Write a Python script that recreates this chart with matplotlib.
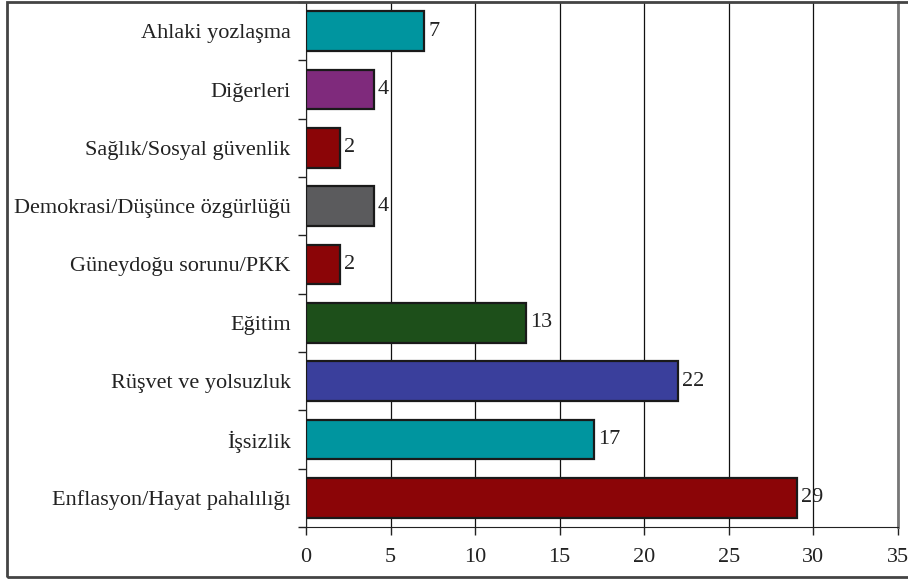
import matplotlib.pyplot as plt
import numpy as np
from matplotlib.patches import Rectangle

# bottom to top, as drawn
categories = ['Enflasyon/Hayat pahalılığı', 'İşsizlik', 'Rüşvet ve yolsuzluk', 'Eğitim',
              'Güneydoğu sorunu/PKK', 'Demokrasi/Düşünce özgürlüğü', 'Sağlık/Sosyal güvenlik',
              'Diğerleri', 'Ahlaki yozlaşma']
values = [29, 17, 22, 13, 2, 4, 2, 4, 7]
colors = ['#8B0507', '#00959F', '#3A3F9C', '#1D4F1A', '#8B0507', '#5B5B5D', '#8B0507',
          '#7F2A7C', '#00959F']
xticks = [0, 5, 10, 15, 20, 25, 30, 35]

plt.rcParams['font.family'] = ['Liberation Serif', 'DejaVu Serif']
FS = 16

fig = plt.figure(figsize=(9.08, 5.8), dpi=100)
ax = fig.add_axes([306 / 908, 53 / 580, 592 / 908, 525 / 580])

pos = np.arange(len(categories))
ax.barh(pos, values, height=0.68, color=colors, edgecolor='#1a1a1a', linewidth=1.6, zorder=3)
for p, v in zip(pos, values):
    ax.text(v + 0.25, p, str(v), va='center', ha='left', fontsize=FS, color='#222222', zorder=4)

ax.set_xlim(0, 35)
ax.set_ylim(-0.5, len(categories) - 0.5)
ax.set_xticks(xticks)
ax.set_xticklabels([str(t) for t in xticks], fontsize=FS, color='#222222')
ax.tick_params(axis='x', direction='out', length=6, width=1, pad=9, color='#222222')
ax.xaxis.grid(True, color='#111111', linewidth=0.9, zorder=0)

ax.set_yticks(pos)
ax.set_yticklabels(categories, fontsize=FS, color='#222222')
ax.tick_params(axis='y', which='major', length=0, pad=11)
ax.set_yticks(np.arange(-0.5, len(categories), 1), minor=True)
ax.tick_params(axis='y', which='minor', direction='out', length=6, width=1, color='#222222')

ax.spines['left'].set_color('#222222')
ax.spines['bottom'].set_color('#222222')
ax.spines['top'].set_color('#444444')
ax.spines['right'].set_color('#777777')
ax.spines['right'].set_linewidth(2)

# outer frame (right side runs off the picture)
fig.patches.append(Rectangle((7 / 908, 3 / 580), 920 / 908, 575 / 580, transform=fig.transFigure,
                             fill=False, edgecolor='#444444', linewidth=2))

fig.savefig('out.png', dpi=100)
